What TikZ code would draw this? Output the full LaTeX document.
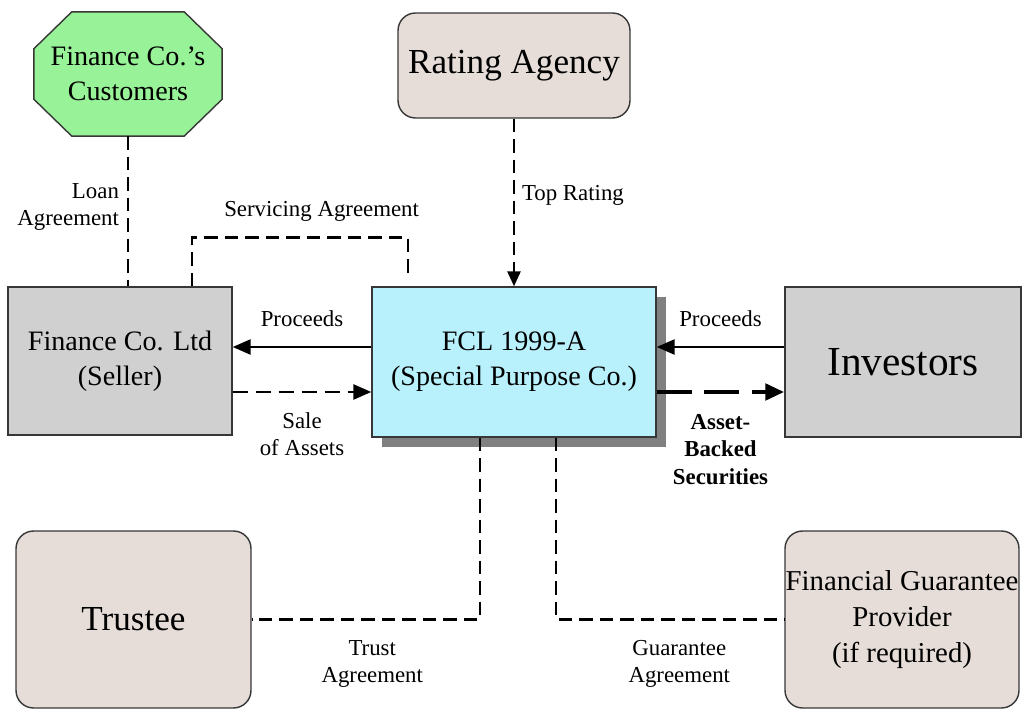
\documentclass[tikz,border=0pt]{standalone}
\usepackage{fontspec}
\setmainfont{Liberation Serif}
\usepackage{tikz}
\usetikzlibrary{arrows.meta,shadows,backgrounds}
\definecolor{custgreen}{RGB}{152,242,152}
\definecolor{partybeige}{RGB}{230,221,216}
\definecolor{boxgray}{RGB}{208,208,208}
\definecolor{spvcyan}{RGB}{184,240,252}
\definecolor{shadegray}{RGB}{128,128,128}
\definecolor{edgegray}{RGB}{55,55,55}
\tikzset{party/.style={draw=edgegray,line width=0.8pt,align=center,inner sep=2pt,font=\fontsize{16}{20}\selectfont},
  bigparty/.style={party,font=\fontsize{20}{24}\selectfont},
  roundparty/.style={bigparty,rounded corners=0.35cm,fill=partybeige},
  flux/.style={-{Triangle[length=0.36cm,width=0.3cm]},line width=1.5pt},
  fluxdash/.style={flux,dash pattern=on 0.3cm off 0.16cm},
  fluxbold/.style={-{Triangle[length=0.38cm,width=0.32cm]},line width=2.8pt,dash pattern=on 0.7cm off 0.25cm},
  deal/.style={line width=1.5pt,dash pattern=on 0.27cm off 0.14cm},
  tag/.style={font=\fontsize{13}{15.5}\selectfont,align=center,inner sep=1pt}}

\begin{document}
\begin{tikzpicture}[x=0.02cm,y=-0.02cm]
\useasboundingbox (0,0) rectangle (1024,709);
\node[party,draw=none,minimum width=3.74cm,minimum height=2.46cm] (customers) at (128,74) {Finance Co.'s\\Customers};
\begin{scope}[on background layer]
% octagon round the customers
\draw[draw=edgegray,line width=0.8pt,fill=custgreen] ([xshift=0.76cm]customers.north west) -- ([xshift=-0.76cm]customers.north east)
  -- ([yshift=-0.74cm]customers.north east) -- ([yshift=0.74cm]customers.south east) -- ([xshift=-0.76cm]customers.south east)
  -- ([xshift=0.76cm]customers.south west) -- ([yshift=0.74cm]customers.south west) -- ([yshift=-0.74cm]customers.north west) -- cycle;
\end{scope}
\node[roundparty,minimum width=4.64cm,minimum height=2.1cm] (rating) at (514,65.5) {Rating Agency};
\node[party,fill=boxgray,minimum width=4.48cm,minimum height=2.96cm] (seller) at (120,361) {Finance Co. Ltd\\(Seller)};
\node[party,fill=spvcyan,drop shadow={shadow xshift=0.2cm,shadow yshift=-0.2cm,fill=shadegray,opacity=1},minimum width=5.68cm,minimum height=3cm] (spv) at (514,362) {FCL 1999-A\\(Special Purpose Co.)};
\node[party,fill=boxgray,minimum width=4.72cm,minimum height=3cm,font=\fontsize{23.5}{28}\selectfont] (investors) at (903,362) {Investors};
\node[roundparty,minimum width=4.7cm,minimum height=3.54cm] (trustee) at (133.5,619.5) {Trustee};
\node[roundparty,font=\fontsize{16.4}{20.5}\selectfont,inner sep=0pt,minimum width=4.68cm,minimum height=3.54cm] (guarantor) at (902,619.5) {Financial Guarantee\\Provider\\(if required)};
\coordinate (svcend) at ([xshift=-2.12cm,yshift=0.2cm]spv.north);
% agreements
\draw[deal] (customers.south) -- node[pos=.47,left=0.12cm,tag,align=right]{Loan\\Agreement} (customers.south |- seller.north);
\draw[deal] ([xshift=1.44cm]seller.north) -- ++(0,-49) -| node[pos=.3,above=0.25cm,tag]{Servicing Agreement} (svcend);
\draw[deal,-{Triangle[length=0.3cm,width=0.26cm]}] (rating.south) -- node[pos=.46,right=0.1cm,tag]{Top Rating} (spv.north);
% money and assets
\draw[flux] ([yshift=0.3cm]spv.west) -- node[above=0.35cm,tag]{Proceeds} ([yshift=0.3cm]spv.west -| seller.east);
\draw[fluxdash] ([yshift=-0.6cm]spv.west -| seller.east) -- node[below=0.35cm,tag]{Sale\\of Assets} ([yshift=-0.6cm]spv.west);
\draw[flux] ([yshift=0.3cm]investors.west) -- node[above=0.35cm,tag]{Proceeds} ([yshift=0.3cm]investors.west -| spv.east);
\draw[fluxbold] ([yshift=-0.6cm]spv.east) -- node[below=0.36cm,tag,font=\fontsize{13}{15.6}\selectfont\bfseries]{Asset-\\Backed\\Securities} ([yshift=-0.6cm]spv.east -| investors.west);
% bottom agreements
\draw[deal] ([xshift=-0.68cm]spv.south) |- node[pos=.736,below=0.35cm,tag]{Trust\\Agreement} (trustee.east);
\draw[deal] ([xshift=0.84cm]spv.south) |- node[pos=.77,below=0.35cm,tag]{Guarantee\\Agreement} (guarantor.west);
\end{tikzpicture}
\end{document}
